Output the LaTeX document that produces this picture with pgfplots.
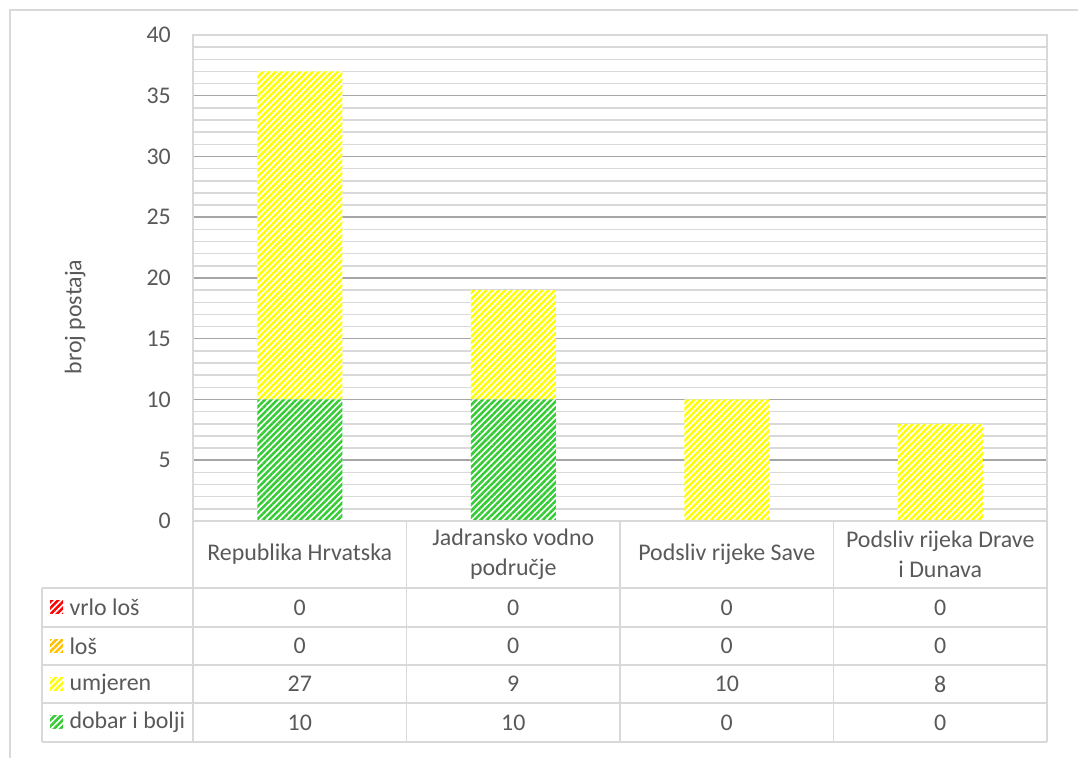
\documentclass[border=0pt]{standalone}
\usepackage{fontspec}
\setmainfont{Carlito}
\usepackage{pgfplots}
\pgfplotsset{compat=1.18}
\usetikzlibrary{patterns.meta}
\definecolor{txt}{HTML}{595959}
\definecolor{lightline}{HTML}{D9D9D9}
\definecolor{majgrid}{HTML}{A6A6A6}
\definecolor{cgreen}{HTML}{33CC33}
\definecolor{cyellow}{HTML}{FFFF00}
\definecolor{corange}{HTML}{FFC000}
\definecolor{cred}{HTML}{FF0000}
\tikzset{
  hatch/.style={fill=white, postaction={pattern={Lines[angle=45,distance=4.4bp,line width=2.5bp]}, pattern color=#1}},
}
\newcommand{\fs}{\fontsize{24}{29}\selectfont}
\begin{document}
\begin{tikzpicture}[x=1bp,y=1bp]
\useasboundingbox (0,0) rectangle (1078,758);
\draw[lightline, line width=1.5bp] (10,0) -- (10,748) -- (1078,748);
\begin{axis}[
  at={(193bp,237bp)}, anchor=south west,
  scale only axis, width=854bp, height=486bp,
  xmin=-0.5, xmax=3.5, ymin=0, ymax=40,
  ybar stacked, bar width=85bp,
  xtick=\empty,
  ytick={5,10,...,35},
  extra y ticks={0,40},
  extra y tick style={grid=none},
  minor ytick={1,2,3,4,6,7,8,9,11,12,13,14,16,17,18,19,21,22,23,24,26,27,28,29,31,32,33,34,36,37,38,39},
  ymajorgrids, yminorgrids,
  major grid style={color=majgrid, line width=1.5bp},
  minor grid style={color=lightline, line width=1.5bp},
  axis line style={color=lightline, line width=1.5bp},
  major tick length=0pt, minor tick length=0pt,
  tick label style={font=\fs, text=txt},
  yticklabel style={anchor=east, inner sep=0pt, xshift=-22bp},
  /pgf/number format/assume math mode=true,
]
\addplot[draw=none, hatch=cgreen] coordinates {(0,10) (1,10) (2,0) (3,0)};
\addplot[draw=none, hatch=cyellow] coordinates {(0,27) (1,9) (2,10) (3,8)};
\addplot[draw=none, hatch=corange] coordinates {(0,0) (1,0) (2,0) (3,0)};
\addplot[draw=none, hatch=cred] coordinates {(0,0) (1,0) (2,0) (3,0)};
\end{axis}
% y label
\node[rotate=90, text=txt, font=\fs] at (75,441) {broj postaja};
% table lines
\begin{scope}[lightline, line width=1.5bp]
\draw (193,237) -- (1047,237);
\draw (42,170) -- (1047,170);
\draw (42,131) -- (1047,131);
\draw (42,93) -- (1047,93);
\draw (42,55) -- (1047,55);
\draw (42,16) -- (1047,16);
\draw (42,170) -- (42,16);
\draw (193,237) -- (193,16);
\draw (406.5,237) -- (406.5,16);
\draw (620,237) -- (620,16);
\draw (833.5,237) -- (833.5,16);
\draw (1047,237) -- (1047,16);
\end{scope}
% header
\begin{scope}[every node/.style={text=txt, font=\fs, align=center}]
\node at (299.75,203.5) {Republika Hrvatska};
\node[font=\fontsize{24}{30}\selectfont] at (513.25,203.5) {Jadransko vodno\\područje};
\node at (726.75,203.5) {Podsliv rijeke Save};
\node[font=\fontsize{24}{30}\selectfont] at (940.25,203.5) {Podsliv rijeka Drave\\i Dunava};
% row labels
\node[anchor=west] at (66,150.5) {vrlo loš};
\node[anchor=west] at (66,112) {loš};
\node[anchor=west] at (66,74) {umjeren};
\node[anchor=west] at (66,35.5) {dobar i bolji};
% values
\foreach \x/\a/\b/\c/\d in {299.75/0/0/27/10, 513.25/0/0/9/10, 726.75/0/0/10/0, 940.25/0/0/8/0}{
  \node at (\x,150.5) {\a};
  \node at (\x,112) {\b};
  \node at (\x,74) {\c};
  \node at (\x,35.5) {\d};
}
\end{scope}
% legend keys
\path[hatch=cred] (50,144) rectangle (63,157);
\path[hatch=corange] (50,105.5) rectangle (63,118.5);
\path[hatch=cyellow] (50,67.5) rectangle (63,80.5);
\path[hatch=cgreen] (50,29) rectangle (63,42);
\end{tikzpicture}
\end{document}
